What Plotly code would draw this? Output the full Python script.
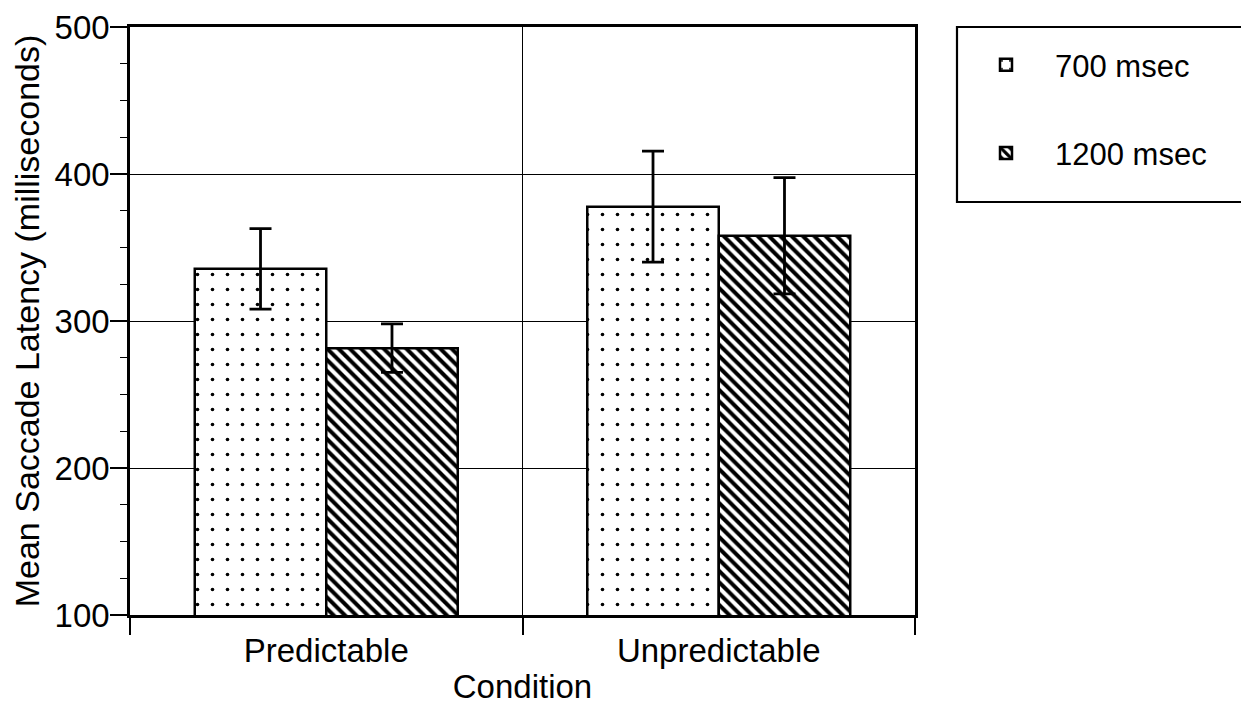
import plotly.graph_objects as go

conditions = ["Predictable", "Unpredictable"]
series_names = ["700 msec", "1200 msec"]
means_700 = [335.5, 377.8]
err_700 = [27.4, 37.7]
means_1200 = [281.5, 358.0]
err_1200 = [16.5, 39.5]
y_ticks = [100, 200, 300, 400, 500]

FONT = "Liberation Sans, Arial, Helvetica, sans-serif"

fig = go.Figure()
fig.add_trace(go.Bar(
    x=conditions, y=means_700, name=series_names[0], legendgroup="a",
    marker=dict(color="white", line=dict(color="black", width=2.5),
                pattern=dict(shape=".", size=15, solidity=0.045, fgcolor="black", bgcolor="white", fgopacity=1)),
    error_y=dict(type="data", array=err_700, visible=True, color="black", thickness=2.8, width=11),
))
fig.add_trace(go.Bar(
    x=conditions, y=means_1200, name=series_names[1], legendgroup="b",
    marker=dict(color="white", line=dict(color="black", width=2.5),
                pattern=dict(shape="\\", size=8, solidity=0.5, fgcolor="black", bgcolor="white", fgopacity=1)),
    error_y=dict(type="data", array=err_1200, visible=True, color="black", thickness=2.8, width=11),
))

# legend frame, open on the right (it runs past the page edge in the original)
fig.add_shape(type="path", xref="paper", yref="paper",
              path="M 1.42,0.7024 L 1.0535,0.7024 L 1.0535,1.0 L 1.42,1.0",
              line=dict(color="black", width=2.2), layer="above")

fig.update_layout(
    width=1241, height=699,
    barmode="group", bargap=0.33, bargroupgap=0,
    paper_bgcolor="white", plot_bgcolor="white",
    margin=dict(l=122, r=334, t=19, b=92),
    font=dict(family=FONT, size=33, color="black"),
    showlegend=True,
    legend=dict(x=1.0535, y=0.981, xanchor="left", yanchor="top",
                borderwidth=0, bgcolor="rgba(0,0,0,0)",
                font=dict(size=31), tracegroupgap=45, itemwidth=88),
    xaxis=dict(
        type="category", tickson="boundaries", ticks="outside", ticklen=17,
        tickwidth=1.5, tickcolor="black", automargin=False,
        ticklabelstandoff=5,
        showgrid=True, gridcolor="black", gridwidth=1,
        showline=True, linecolor="black", linewidth=2.5, mirror=True,
        title=dict(text="Condition", font=dict(size=33), standoff=7),
        tickfont=dict(size=33),
    ),
    yaxis=dict(
        range=[100, 500], tickvals=y_ticks, ticks="outside", ticklen=17,
        tickwidth=1.5, tickcolor="black", automargin=False,
        ticklabelstandoff=-6,
        minor=dict(dtick=25, tick0=100, ticks="outside", ticklen=7, tickwidth=1, tickcolor="black", showgrid=False),
        showgrid=True, gridcolor="black", gridwidth=1,
        showline=True, linecolor="black", linewidth=2.5, mirror=True,
        zeroline=False,
        title=dict(text="Mean Saccade Latency (milliseconds)", font=dict(size=34), standoff=16),
        tickfont=dict(size=33),
    ),
)

fig.write_html("out.html")
